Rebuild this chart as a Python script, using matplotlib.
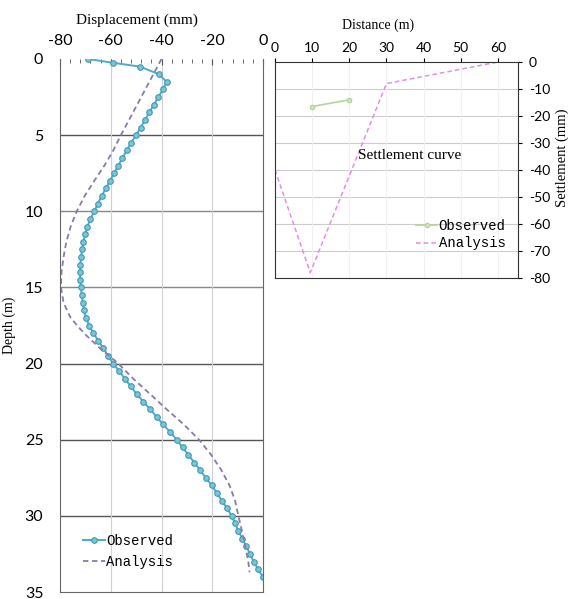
import matplotlib
matplotlib.use("Agg")
import matplotlib.pyplot as plt
from matplotlib.ticker import MultipleLocator

plt.rcParams["axes.unicode_minus"] = False

# ---- data: lateral displacement profile ----
obs_depth = [0, 0.25, 0.5, 1.0, 1.5, 2.0, 2.5, 3.0, 3.5, 4.0, 4.5, 5.0, 5.5, 6.0, 6.5, 7.0,
             7.5, 8.0, 8.5, 9.0, 9.5, 10.0, 10.5, 11.0, 11.5, 12.0, 12.5, 13.0, 13.5, 14.0,
             14.5, 15.0, 15.5, 16.0, 16.5, 17.0, 17.5, 18.0, 18.5, 19.0, 19.5, 20.0, 20.5,
             21.0, 21.5, 22.0, 22.5, 23.0, 23.5, 24.0, 24.5, 25.0, 25.5, 26.0, 26.5, 27.0,
             27.5, 28.0, 28.5, 29.0, 29.5, 30.0, 30.5, 31.0, 31.5, 32.0, 32.5, 33.0, 33.5, 34.0]
obs_disp = [-69, -59, -48.5, -41, -38, -39.5, -41.2, -43, -44.8, -46.5, -48.2, -50, -52, -53.7,
            -55.4, -57, -58.7, -60.3, -62, -63.6, -65.1, -66.5, -68, -69.2, -70, -70.8, -71.3,
            -71.7, -72, -72.1, -72, -71.8, -71.4, -71, -70.5, -69.8, -68.5, -66.9, -64.9, -62.9,
            -61, -59, -56.7, -54.4, -52.1, -49.8, -47.2, -44.5, -41.9, -39.3, -36.6, -34, -31.7,
            -29.4, -27.1, -24.8, -22.5, -20.2, -18.2, -16.2, -14.2, -12.3, -11, -9.7, -8.1,
            -6.6, -5.1, -3.7, -1.9, -0.1]

ana_depth = [0, 5, 6, 7, 8, 9, 10, 11, 12, 13, 14, 15, 16, 17, 18, 19, 20, 21, 22, 23, 24, 25,
             26, 27, 28, 29, 30, 31, 32, 33, 33.7]
ana_disp = [-40, -56, -59, -62.5, -66.5, -70.3, -73.4, -75.8, -77.5, -78.6, -79.4, -79.6, -78.6,
            -75.8, -70.6, -64.2, -57, -51.1, -44.5, -38, -31.2, -25.2, -20.4, -16.4, -13.2, -11,
            -9.7, -8.3, -7, -5.8, -5.3]

# ---- data: surface settlement ----
set_obs_dist = [10, 20]
set_obs_val = [-16.5, -14]
set_ana_dist = [0, 9.5, 30, 60]
set_ana_val = [-40, -78, -8, 0]

depth_ticks = [0, 5, 10, 15, 20, 25, 30, 35]
disp_ticks = [-80, -60, -40, -20, 0]
dist_ticks = [0, 10, 20, 30, 40, 50, 60]
settle_ticks = [0, -10, -20, -30, -40, -50, -60, -70, -80]

W, H = 571, 599
fig = plt.figure(figsize=(W / 100, H / 100), dpi=100)
serif = "Liberation Serif"
tickfont = "Lato"
mono = "Liberation Mono"

# ---------- left: displacement ----------
ax = fig.add_axes([60 / W, 1 - 592 / H, (263 - 60) / W, (592 - 59) / H])
ax.plot(obs_disp, obs_depth, color="#4bacc6", lw=1.4, marker="o", ms=4.0,
        mfc="#7fc3d6", mec="#3b9ab5", mew=0.8, label="Observed")
ax.plot(ana_disp, ana_depth, color="#8a7aa8", lw=1.3, ls=(0, (3, 2)), label="Analysis")
ax.set_xlim(-80, 0)
ax.set_ylim(35, 0)
ax.xaxis.tick_top()
ax.xaxis.set_label_position("top")
ax.set_xticks(disp_ticks)
ax.set_yticks(depth_ticks)
ax.xaxis.set_minor_locator(MultipleLocator(4))
ax.tick_params(axis="x", which="major", direction="in", length=4, color="#555555",
               labelsize=11.5, pad=8)
ax.tick_params(axis="x", which="minor", direction="in", length=3, color="#555555")
ax.tick_params(axis="y", which="major", length=0, labelsize=11.5, pad=12)
for lab in ax.get_xticklabels() + ax.get_yticklabels():
    lab.set_fontfamily(tickfont)
ax.set_xlabel("Displacement (mm)", fontfamily=serif, fontsize=11)
ax.xaxis.set_label_coords(0.38, 1.066)
ax.set_ylabel("Depth (m)", fontfamily=serif, fontsize=10)
ax.yaxis.set_label_coords(-0.215, 0.5)
for d in depth_ticks[1:-1]:
    ax.axhline(d, color="#555555" if d in (5, 20, 25, 30) else "#888888", lw=1.0, zorder=0)
for v in disp_ticks[1:-1]:
    ax.axvline(v, color="#d0d0d0", lw=0.8, zorder=0)
ax.spines["top"].set_visible(False)
for s in ["left", "right", "bottom"]:
    ax.spines[s].set_color("#666666")
ax.legend(loc="lower left", bbox_to_anchor=(0.05, 0.02), frameon=False,
          prop={"family": mono, "size": 10}, handlelength=1.6,
          handletextpad=0.1, labelspacing=0.5)

# ---------- right: settlement ----------
ax2 = fig.add_axes([275 / W, 1 - 278 / H, (518 - 275) / W, (278 - 62) / H])
ax2.plot(set_obs_dist, set_obs_val, color="#b5d39a", lw=1.2, marker="o", ms=3,
         mfc="#d8e8c8", mec="#b5d39a", label="Observed")
ax2.plot(set_ana_dist, set_ana_val, color="#e58be8", lw=1.1, ls=(0, (3, 2)), label="Analysis")
ax2.set_xlim(0, 65.4)
ax2.set_ylim(-80, 0)
ax2.xaxis.tick_top()
ax2.xaxis.set_label_position("top")
ax2.yaxis.tick_right()
ax2.set_xticks(dist_ticks)
ax2.set_yticks(settle_ticks)
ax2.tick_params(axis="x", length=3, direction="out", labelsize=10, pad=3)
ax2.tick_params(axis="y", length=3, direction="out", labelsize=10, pad=5)
for lab in ax2.get_xticklabels() + ax2.get_yticklabels():
    lab.set_fontfamily(tickfont)
ax2.set_xlabel("Distance (m)", fontfamily=serif, fontsize=10)
ax2.xaxis.set_label_coords(0.424, 1.155)
for v in settle_ticks[1:-1]:
    ax2.axhline(v, color="#cccccc", lw=0.8, zorder=0)
for v in dist_ticks[1:]:
    ax2.axvline(v, color="#f0f0f0", lw=0.7, zorder=0)
for s in ax2.spines.values():
    s.set_color("#333333")
ax2.text(36.3, -34.5, "Settlement curve", fontfamily=serif, fontsize=11, ha="center",
         va="center")
ax2.legend(loc="lower left", bbox_to_anchor=(0.53, 0.07), frameon=False,
           prop={"family": mono, "size": 10}, handlelength=1.5,
           handletextpad=0.1, labelspacing=0.25)
fig.text(562 / W, 1 - 158 / H, "Settlement (mm)", rotation=90, fontfamily=serif,
         fontsize=10.5, ha="center", va="center")

fig.savefig("out.png", dpi=100)
